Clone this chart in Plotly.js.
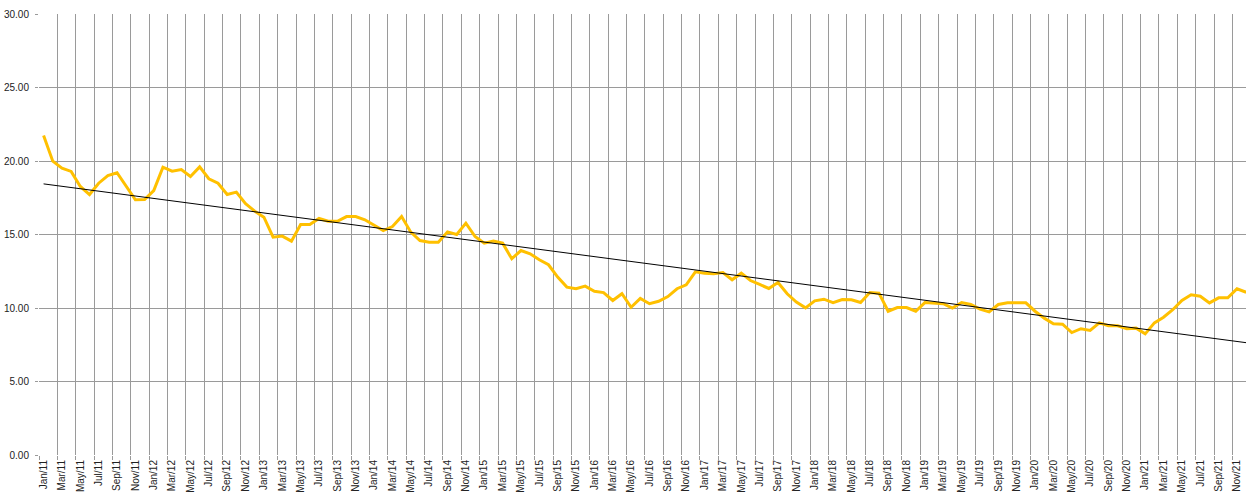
<!DOCTYPE html>
<html>
<head>
<meta charset="utf-8">
<script src="https://cdn.plot.ly/plotly-3.0.1.min.js"></script>
<style>
html,body{margin:0;padding:0;background:#fff;overflow:hidden;}
#chart{width:1246px;height:497px;}
</style>
</head>
<body>
<div id="chart"></div>
<script>
// Months Jan/11 .. Dec/21
const monthNames = ["Jan","Feb","Mar","Apr","May","Jun","Jul","Aug","Sep","Oct","Nov","Dec"];
const years = ["11","12","13","14","15","16","17","18","19","20","21"];
const categories = [];
years.forEach(y => monthNames.forEach(m => categories.push(m + "/" + y)));

const values = [
  21.73, 19.99, 19.51, 19.29, 18.27, 17.72, 18.49, 19.01, 19.20, 18.27, 17.36, 17.38,
  17.99, 19.58, 19.31, 19.42, 18.95, 19.60, 18.79, 18.49, 17.72, 17.88, 17.09, 16.59,
  16.18, 14.82, 14.89, 14.55, 15.68, 15.68, 16.09, 15.90, 15.90, 16.22, 16.22, 16.00,
  15.66, 15.27, 15.54, 16.22, 15.16, 14.59, 14.48, 14.48, 15.18, 15.00, 15.77, 14.86,
  14.41, 14.55, 14.41, 13.35, 13.91, 13.69, 13.28, 12.94, 12.10, 11.42, 11.31, 11.49,
  11.14, 11.05, 10.51, 10.97, 10.05, 10.65, 10.29, 10.46, 10.78, 11.31, 11.58, 12.46,
  12.37, 12.33, 12.41, 11.92, 12.37, 11.87, 11.60, 11.33, 11.73, 10.97, 10.40, 10.01,
  10.49, 10.60, 10.37, 10.58, 10.56, 10.37, 11.05, 11.01, 9.78, 10.03, 10.03, 9.78,
  10.37, 10.35, 10.29, 9.99, 10.37, 10.24, 9.92, 9.74, 10.24, 10.35, 10.35, 10.35,
  9.78, 9.31, 8.93, 8.90, 8.33, 8.59, 8.47, 8.99, 8.79, 8.79, 8.59, 8.63,
  8.24, 8.99, 9.37, 9.88, 10.51, 10.90, 10.80, 10.35, 10.69, 10.69, 11.31, 11.07
];

const yTicks = [0, 5, 10, 15, 20, 25, 30];

// positions
const xIdx = categories.map((c, i) => i);

// linear trend (least squares) of the series, like a spreadsheet trendline
const n = values.length;
const mx = xIdx.reduce((a, b) => a + b, 0) / n;
const my = values.reduce((a, b) => a + b, 0) / n;
let sxy = 0, sxx = 0;
for (let i = 0; i < n; i++) { sxy += (xIdx[i] - mx) * (values[i] - my); sxx += (xIdx[i] - mx) ** 2; }
const slope = sxy / sxx;
const intercept = my - slope * mx;
const trendX = [0, n - 0.5];
const trendY = trendX.map(x => intercept + slope * x);

// labels on every second month, gridlines on category boundaries
const labelVals = xIdx.filter(i => i % 2 === 0);
const labelText = labelVals.map(i => categories[i]);
const gridVals = labelVals.map(i => i - 0.5);

const gridColor = "#9a9a9a";
const fontFam = "'Liberation Sans Narrow', 'Liberation Sans', Arial, sans-serif";

const traces = [
  {
    x: xIdx, y: values, type: "scatter", mode: "lines",
    line: {color: "#FFC000", width: 3}, hoverinfo: "skip", showlegend: false
  },
  {
    x: trendX, y: trendY, type: "scatter", mode: "lines",
    line: {color: "#000000", width: 1}, hoverinfo: "skip", showlegend: false
  }
];

const layout = {
  width: 1246, height: 497,
  margin: {l: 39, r: 0, t: 14, b: 42, pad: 0},
  paper_bgcolor: "#ffffff", plot_bgcolor: "#ffffff",
  showlegend: false,
  font: {family: fontFam, size: 10, color: "#222"},
  xaxis: {
    range: [-0.5, 130.98],
    tickmode: "array", tickvals: labelVals, ticktext: labelText,
    tickangle: -90, ticks: "", showgrid: false, zeroline: false, showline: false,
    tickfont: {family: fontFam, size: 10, color: "#222"},
    ticklabelstandoff: 2,
    minor: {tickmode: "array", tickvals: gridVals, showgrid: true, gridcolor: gridColor, gridwidth: 1,
            ticks: "outside", ticklen: 4, tickcolor: gridColor, tickwidth: 1},
    fixedrange: true
  },
  yaxis: {
    range: [0, 30],
    tickmode: "array", tickvals: yTicks, ticktext: yTicks.map(v => v.toFixed(2)),
    showgrid: true, gridcolor: gridColor, gridwidth: 1, zeroline: false, showline: false,
    ticks: "outside", ticklen: 3, tickcolor: gridColor,
    tickfont: {family: fontFam, size: 10, color: "#222"},
    ticklabelstandoff: 4,
    fixedrange: true
  }
};

Plotly.newPlot("chart", traces, layout, {displayModeBar: false, staticPlot: true});
</script>
</body>
</html>
